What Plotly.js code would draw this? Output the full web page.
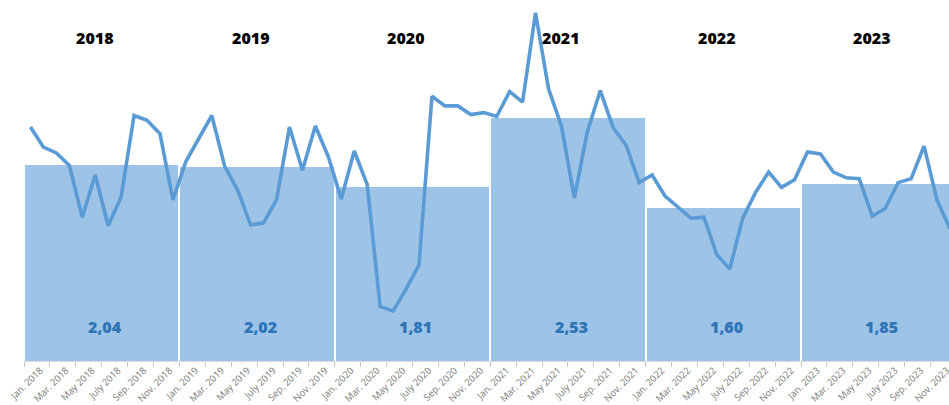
<!DOCTYPE html>
<html>
<head>
<meta charset="utf-8">
<script src="https://cdn.plot.ly/plotly-3.0.1.min.js"></script>
<style>
  html, body { margin: 0; padding: 0; background: #ffffff; }
  #chart { width: 949px; height: 405px; }
</style>
</head>
<body>
<div id="chart"></div>
<script>
// ---- Data ----
const years = ["2018", "2019", "2020", "2021", "2022", "2023"];
const monthNames = ["Jan.", "Feb.", "Mar.", "Apr.", "May", "June", "July", "Aug.", "Sep.", "Oct.", "Nov.", "Dec."];
const yearlyAverages = [2.04, 2.02, 1.81, 2.53, 1.60, 1.85];

const monthly2018 = [2.44, 2.23, 2.17, 2.04, 1.50, 1.94, 1.41, 1.71, 2.56, 2.51, 2.37, 1.68];
const monthly2019 = [2.08, 2.32, 2.56, 2.03, 1.78, 1.42, 1.44, 1.68, 2.44, 1.99, 2.45, 2.13];
const monthly2020 = [1.69, 2.19, 1.84, 0.57, 0.52, 0.75, 1.00, 2.76, 2.66, 2.66, 2.57, 2.59];
const monthly2021 = [2.55, 2.81, 2.70, 3.63, 2.84, 2.45, 1.70, 2.39, 2.82, 2.43, 2.25, 1.86];
const monthly2022 = [1.94, 1.72, 1.60, 1.49, 1.50, 1.11, 0.96, 1.49, 1.76, 1.97, 1.81, 1.89];
const monthly2023 = [2.18, 2.16, 1.97, 1.91, 1.90, 1.51, 1.59, 1.86, 1.90, 2.24, 1.68, 1.38];

// ---- Derived ----
const monthlyValues = [].concat(monthly2018, monthly2019, monthly2020, monthly2021, monthly2022, monthly2023);
const monthIndex = monthlyValues.map((_, i) => i);
const monthLabels = [];
years.forEach(y => monthNames.forEach(m => monthLabels.push(m + " " + y)));

const barX = years.map((_, k) => 12 * k + 5.5);
const yearLabelX = years.map((_, k) => 12 * k + 5.0);
const valueLabelX = years.map((_, k) => 12 * k + 5.75);

const boundaryTicks = [];
for (let i = -0.5; i < 72; i += 2) boundaryTicks.push(i);
const labelTickVals = [], labelTickText = [];
for (let i = 0; i < 72; i += 2) { labelTickVals.push(i + 0.75); labelTickText.push(monthLabels[i]); }

const xRange = [-0.5, -0.5 + 925 / 12.95];
const yRange = [0, 361 / 95.9];

const traces = [
  {
    type: "bar",
    x: barX,
    y: yearlyAverages,
    width: 11.85,
    marker: { color: "#9dc3e6", line: { width: 0 } },
    hoverinfo: "skip",
    xaxis: "x",
    yaxis: "y"
  },
  {
    type: "scatter",
    mode: "lines",
    x: monthIndex,
    y: monthlyValues,
    line: { color: "#5b9bd5", width: 3.6 },
    hoverinfo: "skip",
    xaxis: "x",
    yaxis: "y"
  },
  {
    type: "scatter",
    mode: "markers",
    x: [0],
    y: [0],
    marker: { opacity: 0 },
    hoverinfo: "skip",
    xaxis: "x2",
    yaxis: "y"
  }
];

const annotations = [];
years.forEach((y, k) => {
  annotations.push({
    x: yearLabelX[k], y: 3.37, xref: "x", yref: "y",
    text: y, showarrow: false, xanchor: "center", yanchor: "middle",
    font: { family: "Open Sans", size: 16, color: "#000000", weight: 800 }
  });
  annotations.push({
    x: valueLabelX[k], y: 0.35, xref: "x", yref: "y",
    text: yearlyAverages[k].toFixed(2).replace(".", ","), showarrow: false,
    xanchor: "center", yanchor: "middle",
    font: { family: "Open Sans", size: 16, color: "#2e75b6", weight: 800 }
  });
});

const layout = {
  width: 949,
  height: 405,
  margin: { l: 24, r: 0, t: 0, b: 44, pad: 0 },
  paper_bgcolor: "#ffffff",
  plot_bgcolor: "#ffffff",
  showlegend: false,
  bargap: 0,
  xaxis: {
    type: "linear",
    range: xRange,
    tickmode: "array",
    tickvals: boundaryTicks,
    showticklabels: false,
    ticks: "outside",
    ticklen: 5,
    tickwidth: 1,
    tickcolor: "#c8c8c8",
    showline: true,
    linecolor: "#dcdcdc",
    linewidth: 1,
    showgrid: false,
    zeroline: false,
    fixedrange: true
  },
  xaxis2: {
    type: "linear",
    overlaying: "x",
    anchor: "y",
    side: "bottom",
    range: xRange,
    tickmode: "array",
    tickvals: labelTickVals,
    ticktext: labelTickText,
    tickangle: -45,
    ticks: "",
    ticklen: 0,
    ticklabelstandoff: 1,
    ticklabeloverflow: "allow",
    tickfont: { family: "Open Sans", size: 9.5, color: "#7a7a7a" },
    showline: false,
    showgrid: false,
    zeroline: false,
    fixedrange: true
  },
  yaxis: {
    range: yRange,
    visible: false,
    showgrid: false,
    zeroline: false,
    fixedrange: true
  },
  annotations: annotations
};

Plotly.newPlot("chart", traces, layout, { displayModeBar: false, staticPlot: true });
</script>
</body>
</html>
